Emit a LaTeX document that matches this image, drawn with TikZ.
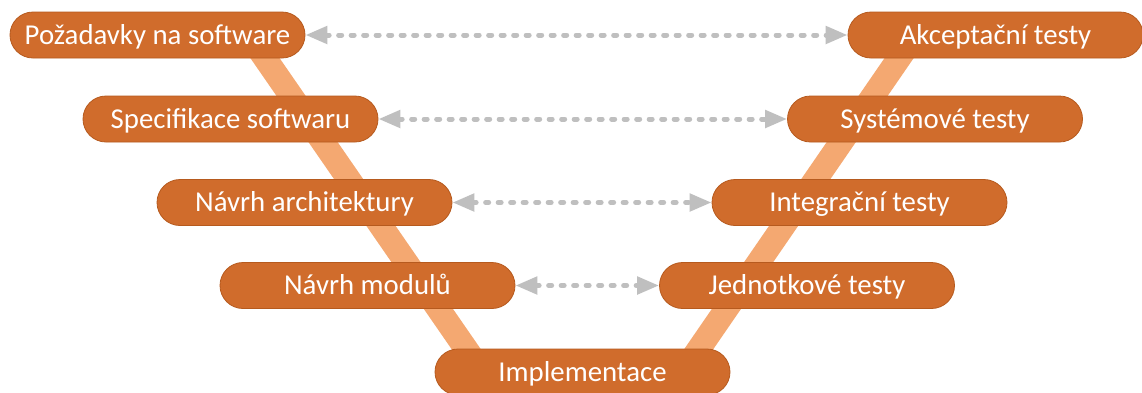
\documentclass[tikz,border=0pt]{standalone}
\usepackage{fontspec}
\setmainfont{Carlito}
\usetikzlibrary{arrows.meta}
\definecolor{nodefill}{HTML}{D06C2C}
\definecolor{nodeedge}{HTML}{B65A1E}
\definecolor{vband}{HTML}{F4A871}
\definecolor{linkgray}{HTML}{BFBFBF}
\tikzset{
  phase/.style={draw=nodeedge, line width=0.8pt, fill=nodefill, rounded corners=23pt,
    minimum width=295pt, minimum height=46pt, inner sep=0pt, text=white,
    font=\fontsize{28.8}{30}\selectfont, text height=18.5pt, text depth=0pt},
  band/.style={draw=vband, line width=24pt},
  link/.style={draw=linkgray, line width=5pt, line cap=round,
    dash pattern=on 3pt off 9.5pt,
    {Triangle[length=22pt,width=17pt,line cap=butt]}-{Triangle[length=22pt,width=17pt,line cap=butt]},
    shorten <=0pt, shorten >=0pt}
}
\begin{document}
\begin{tikzpicture}[x=1pt,y=-1pt]
\useasboundingbox (0,0) rectangle (1142,392);
\fill[white] (0,0) rectangle (1142,392);
\coordinate (vtl) at (249,35);
\coordinate (vbl) at (482,372);
\coordinate (vtr) at (915,35);
\coordinate (vbr) at (683,372);
\draw[band] (vtl) -- (vbl);
\draw[band] (vtr) -- (vbr);
\node[phase] (req) at (157.5,35) {Požadavky na software};
\node[phase] (spec) at (230.5,119) {Specifikace softwaru};
\node[phase] (arch) at (304.5,202.5) {Návrh architektury};
\node[phase] (mod) at (367.5,285.5) {Návrh modulů};
\node[phase] (impl) at (582.5,372) {Implementace};
\node[phase] (unit) at (807,285.5) {Jednotkové testy};
\node[phase] (integ) at (859.5,202.5) {Integrační testy};
\node[phase] (sys) at (935,119) {Systémové testy};
\node[phase] (acc) at (995.5,35) {Akceptační testy};
\draw[link] (req.east) -- (acc.west);
\draw[link] (spec.east) -- (sys.west);
\draw[link] (arch.east) -- (integ.west);
\draw[link] (mod.east) -- (unit.west);
\end{tikzpicture}
\end{document}
